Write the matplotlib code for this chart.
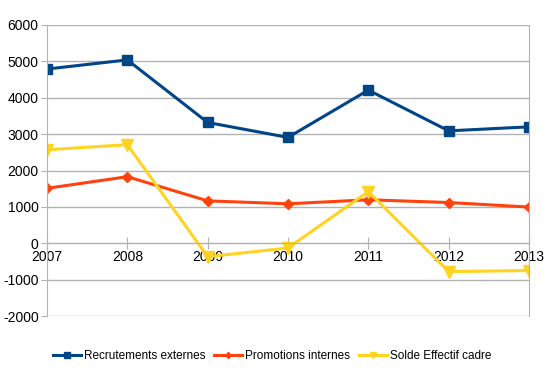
import matplotlib.pyplot as plt

plt.rcParams['font.family'] = ['Liberation Sans', 'DejaVu Sans']
plt.rcParams['axes.unicode_minus'] = False

years = [2007, 2008, 2009, 2010, 2011, 2012, 2013]
recrutements = [4790, 5040, 3320, 2910, 4210, 3090, 3200]
promotions = [1510, 1830, 1165, 1085, 1195, 1120, 995]
solde = [2570, 2710, -370, -130, 1420, -780, -750]

fig = plt.figure(figsize=(5.5, 3.72), dpi=100)
ax = fig.add_axes([47 / 550, 1 - 316 / 372, (529 - 47) / 550, (316 - 25) / 372])

ax.plot(years, recrutements, '-s', color='#004586', lw=2.2, ms=7, label='Recrutements externes')
ax.plot(years, promotions, '-D', color='#FF420E', lw=2.2, ms=5, label='Promotions internes')
ax.plot(years, solde, '-v', color='#FFD320', lw=2.2, ms=8, label='Solde Effectif cadre')

ax.set_xlim(2007, 2013)
ax.set_ylim(-2000, 6000)
ax.set_yticks(range(-2000, 6001, 1000))
ax.set_xticks(years)
ax.grid(axis='y', color='#b3b3b3', lw=1)
ax.set_axisbelow(True)

for s in ['left', 'right', 'top']:
    ax.spines[s].set_color('#b3b3b3')
ax.spines['top'].set_visible(False)
ax.spines['bottom'].set_position(('data', 0))
ax.spines['bottom'].set_color('#b3b3b3')
ax.tick_params(axis='y', length=4, color='#b3b3b3', labelsize=10, pad=2)
ax.tick_params(axis='x', direction='inout', length=8, color='#b3b3b3', labelsize=10, pad=1)

ax.legend(loc='center', bbox_to_anchor=(0.467, -0.137), ncol=3, frameon=False,
          fontsize=8.5, handlelength=2.4, handletextpad=0.25, columnspacing=0.7,
          markerscale=0.6)

fig.savefig('out.png', dpi=100)
